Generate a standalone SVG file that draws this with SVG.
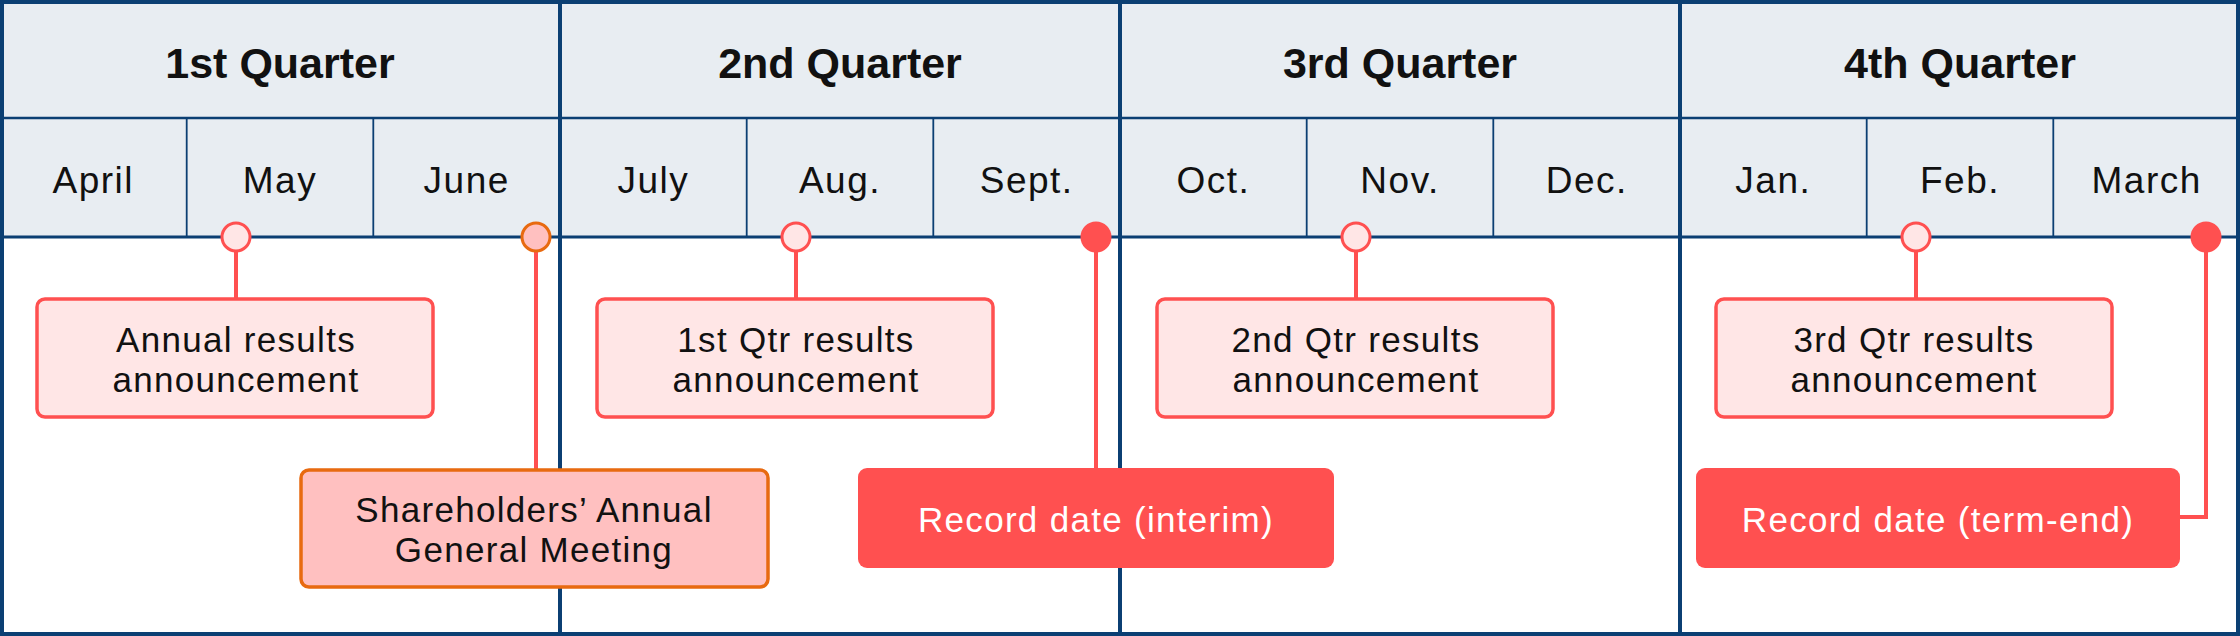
<svg xmlns="http://www.w3.org/2000/svg" width="2240" height="636" viewBox="0 0 2240 636">
<style>
.bg{fill:#E8EDF2}
.grid{stroke:#0B3F73;fill:none}
.q{font-family:"Liberation Sans",Arial,sans-serif;font-size:43px;font-weight:bold;fill:#111;text-anchor:middle}
.m{font-family:"Liberation Sans",Arial,sans-serif;font-size:37px;fill:#111;text-anchor:middle;letter-spacing:1.5px}
.t{font-family:"Liberation Sans",Arial,sans-serif;font-size:35px;fill:#111;text-anchor:middle;letter-spacing:1.3px}
.tw{font-family:"Liberation Sans",Arial,sans-serif;font-size:35px;fill:#fff;text-anchor:middle;letter-spacing:1.3px}
.ann{fill:#FFE6E6;stroke:#FF5050;stroke-width:3.5}
.gm{fill:#FFC0C0;stroke:#E86A10;stroke-width:3.5}
.rec{fill:#FF5050}
.ln{stroke:#FF5050;stroke-width:4;fill:none}
.co{fill:#FFE6E6;stroke:#FF5050;stroke-width:3}
.cg{fill:#FFC0C0;stroke:#E86A10;stroke-width:3}
.cf{fill:#FF5050}
</style>
<rect x="0" y="0" width="2240" height="636" fill="#fff"/>
<g id="header">
<rect class="bg" x="0" y="0" width="2240" height="237"/>
<g class="grid">
<line x1="0" y1="118" x2="2240" y2="118" stroke-width="2.5"/>
<line x1="0" y1="237" x2="2240" y2="237" stroke-width="3"/>
<g stroke-width="1.8">
<line x1="186.7" y1="118" x2="186.7" y2="237"/><line x1="373.3" y1="118" x2="373.3" y2="237"/>
<line x1="746.7" y1="118" x2="746.7" y2="237"/><line x1="933.3" y1="118" x2="933.3" y2="237"/>
<line x1="1306.7" y1="118" x2="1306.7" y2="237"/><line x1="1493.3" y1="118" x2="1493.3" y2="237"/>
<line x1="1866.7" y1="118" x2="1866.7" y2="237"/><line x1="2053.3" y1="118" x2="2053.3" y2="237"/>
</g>
<g stroke-width="4">
<line x1="560" y1="0" x2="560" y2="636"/><line x1="1120" y1="0" x2="1120" y2="636"/><line x1="1680" y1="0" x2="1680" y2="636"/>
</g>
<rect x="2" y="2" width="2236" height="632" stroke-width="4"/>
</g>
<text class="q" x="280" y="78">1st Quarter</text>
<text class="q" x="840" y="78">2nd Quarter</text>
<text class="q" x="1400" y="78">3rd Quarter</text>
<text class="q" x="1960" y="78">4th Quarter</text>
<text class="m" x="93.3" y="193">April</text>
<text class="m" x="280" y="193">May</text>
<text class="m" x="466.7" y="193">June</text>
<text class="m" x="653.3" y="193">July</text>
<text class="m" x="840" y="193">Aug.</text>
<text class="m" x="1026.7" y="193">Sept.</text>
<text class="m" x="1213.3" y="193">Oct.</text>
<text class="m" x="1400" y="193">Nov.</text>
<text class="m" x="1586.7" y="193">Dec.</text>
<text class="m" x="1773.3" y="193">Jan.</text>
<text class="m" x="1960" y="193">Feb.</text>
<text class="m" x="2146.7" y="193">March</text>
</g>
<g id="connectors">
<line class="ln" x1="236" y1="237" x2="236" y2="299"/>
<line class="ln" x1="536" y1="237" x2="536" y2="469"/>
<line class="ln" x1="796" y1="237" x2="796" y2="299"/>
<line class="ln" x1="1096" y1="237" x2="1096" y2="468"/>
<line class="ln" x1="1356" y1="237" x2="1356" y2="299"/>
<line class="ln" x1="1916" y1="237" x2="1916" y2="299"/>
<polyline class="ln" points="2206,237 2206,517 2180,517"/>
</g>
<g id="markers">
<circle class="co" cx="236" cy="237" r="14"/>
<circle class="cg" cx="536" cy="237" r="14"/>
<circle class="co" cx="796" cy="237" r="14"/>
<circle class="cf" cx="1096" cy="237" r="15.5"/>
<circle class="co" cx="1356" cy="237" r="14"/>
<circle class="co" cx="1916" cy="237" r="14"/>
<circle class="cf" cx="2206" cy="237" r="15.5"/>
</g>
<g id="annual-results">
<rect class="ann" x="37" y="299" width="396" height="118" rx="8"/>
<text class="t" x="236" y="352">Annual results</text>
<text class="t" x="236" y="392">announcement</text>
</g>
<g id="q1-results">
<rect class="ann" x="597" y="299" width="396" height="118" rx="8"/>
<text class="t" x="796" y="352">1st Qtr results</text>
<text class="t" x="796" y="392">announcement</text>
</g>
<g id="q2-results">
<rect class="ann" x="1157" y="299" width="396" height="118" rx="8"/>
<text class="t" x="1356" y="352">2nd Qtr results</text>
<text class="t" x="1356" y="392">announcement</text>
</g>
<g id="q3-results">
<rect class="ann" x="1716" y="299" width="396" height="118" rx="8"/>
<text class="t" x="1914" y="352">3rd Qtr results</text>
<text class="t" x="1914" y="392">announcement</text>
</g>
<g id="agm">
<rect class="gm" x="301" y="470" width="467" height="117" rx="8"/>
<text class="t" x="534" y="522">Shareholders’ Annual</text>
<text class="t" x="534" y="562">General Meeting</text>
</g>
<g id="record-interim">
<rect class="rec" x="858" y="468" width="476" height="100" rx="9"/>
<text class="tw" x="1096" y="532">Record date (interim)</text>
</g>
<g id="record-term-end">
<rect class="rec" x="1696" y="468" width="484" height="100" rx="9"/>
<text class="tw" x="1938" y="532">Record date (term-end)</text>
</g>
</svg>
